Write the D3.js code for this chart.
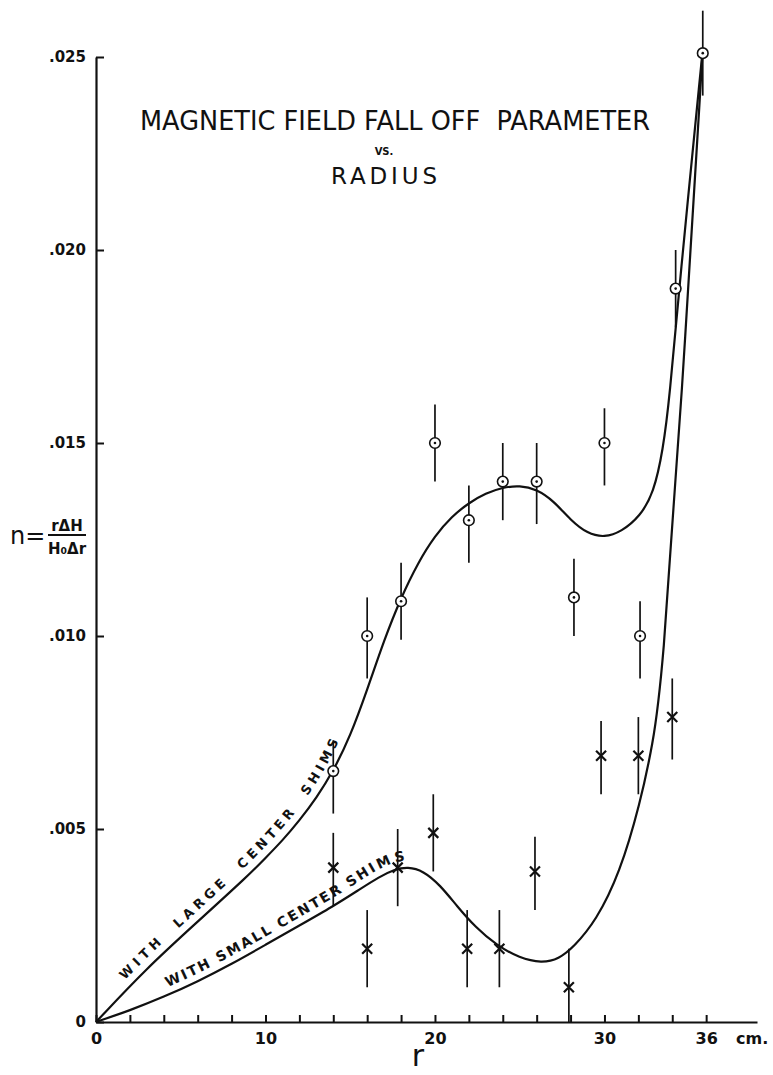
<!DOCTYPE html>
<html>
<head>
<meta charset="utf-8">
<script src="https://cdn.jsdelivr.net/npm/d3@7"></script>
<style>
  body { margin: 0; background: #fff; }
  svg { display: block; }
</style>
</head>
<body>
<svg id="chart"></svg>
<script>
// axis ticks
const yTickValues = [0, 0.005, 0.010, 0.015, 0.020, 0.025];
const yTickLabels = ["0", ".005", ".010", ".015", ".020", ".025"];
const xTickValues = [0, 2, 4, 6, 8, 10, 12, 14, 16, 18, 20, 22, 24, 26, 28, 30, 32, 34, 36];
const xLabelValues = [0, 10, 20, 30, 36];

// measured points: [r, n, low end of bar, high end of bar]
const largeShims = [
  [14, 0.0065, 0.0054, 0.0073],
  [16, 0.0100, 0.0089, 0.0110],
  [18, 0.0109, 0.0099, 0.0119],
  [20, 0.0150, 0.0140, 0.0160],
  [22, 0.0130, 0.0119, 0.0139],
  [24, 0.0140, 0.0130, 0.0150],
  [26, 0.0140, 0.0129, 0.0150],
  [28.2, 0.0110, 0.0100, 0.0120],
  [30, 0.0150, 0.0139, 0.0159],
  [32.1, 0.0100, 0.0089, 0.0109],
  [34.2, 0.0190, 0.0180, 0.0200],
  [35.8, 0.0251, 0.0240, 0.0262]
];
const smallShims = [
  [14, 0.0040, 0.0030, 0.0049],
  [16, 0.0019, 0.0009, 0.0029],
  [17.8, 0.0040, 0.0030, 0.0050],
  [19.9, 0.0049, 0.0039, 0.0059],
  [21.9, 0.0019, 0.0009, 0.0029],
  [23.8, 0.0019, 0.0009, 0.0029],
  [25.9, 0.0039, 0.0029, 0.0048],
  [27.9, 0.0009, 0.0000, 0.0019],
  [29.8, 0.0069, 0.0059, 0.0078],
  [32, 0.0069, 0.0059, 0.0079],
  [34, 0.0079, 0.0068, 0.0089]
];

// hand drawn curves
const largeCurve = [
  [0, 0], [3, 0.0014], [6, 0.0026], [9, 0.0038], [10, 0.00425], [11, 0.0047],
  [12, 0.00522], [13, 0.0058], [14, 0.0065], [15, 0.0074], [16, 0.0086], [17, 0.0099],
  [18, 0.0110], [19, 0.0119], [20, 0.0126], [21, 0.0131], [22, 0.01345], [23, 0.0137],
  [24, 0.01385], [25, 0.0139], [26, 0.0138], [27, 0.0135], [28, 0.0130], [29, 0.01265],
  [30, 0.01255], [31, 0.0127], [32.1, 0.0131], [32.9, 0.0137], [33.45, 0.0148],
  [33.85, 0.0162], [34.4, 0.0190], [35.8, 0.0252]
];
const smallCurve = [
  [0, 0], [2, 0.0003], [4, 0.00065], [6, 0.00105], [8, 0.0015], [10, 0.002],
  [12, 0.0025], [14, 0.003], [15.5, 0.00342], [16.7, 0.00376], [17.6, 0.00395],
  [18.4, 0.00402], [19.3, 0.00392], [20.3, 0.00355], [21.3, 0.003], [22.4, 0.00245],
  [23.6, 0.002], [25, 0.00165], [26.3, 0.00153], [27.3, 0.00163], [28.2, 0.00195],
  [29.5, 0.00262], [30.9, 0.00385], [32.1, 0.00565], [32.85, 0.0072], [33.4, 0.0088],
  [34.55, 0.0161], [35.8, 0.0252]
];

const width = 773;
const height = 1075;
const ink = "#111";
const font = "DejaVu Sans, sans-serif";

const svg = d3.select("#chart").attr("width", width).attr("height", height);

const x = d3.scaleLinear().domain([0, 39]).range([96, 757]);
const y = d3.scaleLinear().domain([0, 0.025]).range([1022, 57]);

// y axis, ticks pointing inward
const yAxisG = svg.append("g")
  .attr("transform", `translate(${x(0)},0)`)
  .call(d3.axisLeft(y)
    .tickValues(yTickValues)
    .tickFormat((d, i) => yTickLabels[i])
    .tickSizeInner(-8)
    .tickSizeOuter(0)
    .tickPadding(10));
yAxisG.select(".domain").attr("stroke", ink).attr("stroke-width", 2.2);
yAxisG.selectAll(".tick line").attr("stroke", ink).attr("stroke-width", 2);
yAxisG.selectAll(".tick text")
  .attr("fill", ink)
  .attr("font-family", font)
  .attr("font-weight", "bold")
  .attr("font-size", 15);

// x axis
const xAxisG = svg.append("g")
  .attr("transform", `translate(0,${y(0)})`)
  .call(d3.axisBottom(x)
    .tickValues(xTickValues)
    .tickFormat(d => (xLabelValues.includes(d) ? d : ""))
    .tickSizeInner(-7)
    .tickSizeOuter(0)
    .tickPadding(11));
xAxisG.select(".domain").attr("stroke", ink).attr("stroke-width", 2.2);
xAxisG.selectAll(".tick line").attr("stroke", ink).attr("stroke-width", 2);
xAxisG.selectAll(".tick text")
  .attr("fill", ink)
  .attr("font-family", font)
  .attr("font-weight", "bold")
  .attr("font-size", 16);

svg.append("text")
  .attr("x", 736).attr("y", 1044)
  .attr("font-family", font).attr("font-weight", "bold").attr("font-size", 16)
  .attr("fill", ink)
  .text("cm.");

svg.append("text")
  .attr("x", 418).attr("y", 1066)
  .attr("text-anchor", "middle")
  .attr("font-family", font).attr("font-size", 30)
  .attr("fill", ink)
  .text("r");

// y axis label n = rΔH / H₀Δr
const yLab = svg.append("g").attr("fill", ink).attr("font-family", font);
yLab.append("text")
  .attr("x", 10).attr("y", 544)
  .attr("font-size", 24)
  .text("n=");
yLab.append("text")
  .attr("x", 67).attr("y", 531)
  .attr("text-anchor", "middle")
  .attr("font-size", 15).attr("font-weight", "bold")
  .text("rΔH");
yLab.append("line")
  .attr("x1", 48).attr("x2", 86)
  .attr("y1", 535).attr("y2", 535)
  .attr("stroke", ink).attr("stroke-width", 2);
yLab.append("text")
  .attr("x", 67).attr("y", 554)
  .attr("text-anchor", "middle")
  .attr("font-size", 15).attr("font-weight", "bold")
  .text("H₀Δr");

// title
const title = svg.append("g").attr("fill", ink).attr("font-family", font).attr("text-anchor", "middle");
title.append("text")
  .attr("x", 395).attr("y", 130)
  .attr("font-size", 26)
  .attr("textLength", 510).attr("lengthAdjust", "spacingAndGlyphs")
  .style("white-space", "pre")
  .text("MAGNETIC FIELD FALL OFF  PARAMETER");
title.append("text")
  .attr("x", 384).attr("y", 155)
  .attr("font-size", 10).attr("font-weight", "bold")
  .text("VS.");
title.append("text")
  .attr("x", 384).attr("y", 184)
  .attr("font-size", 23)
  .attr("textLength", 106).attr("lengthAdjust", "spacing")
  .text("RADIUS");

// curves
const line = d3.line()
  .x(d => x(d[0]))
  .y(d => y(d[1]))
  .curve(d3.curveBasis);

svg.append("path")
  .attr("id", "largeCurve")
  .attr("d", line(largeCurve))
  .attr("fill", "none").attr("stroke", ink).attr("stroke-width", 2.2);
svg.append("path")
  .attr("id", "smallCurve")
  .attr("d", line(smallCurve))
  .attr("fill", "none").attr("stroke", ink).attr("stroke-width", 2.2);

// curve labels along the curves
svg.append("text")
  .attr("font-family", font).attr("font-weight", "bold").attr("font-size", 13)
  .attr("fill", ink)
  .attr("dy", -8)
  .style("white-space", "pre")
  .append("textPath")
  .attr("href", "#largeCurve")
  .attr("startOffset", 50)
  .attr("textLength", 326).attr("lengthAdjust", "spacing")
  .text("WITH  LARGE  CENTER  SHIMS");
svg.append("text")
  .attr("font-family", font).attr("font-weight", "bold").attr("font-size", 14)
  .attr("fill", ink)
  .attr("dy", -7)
  .append("textPath")
  .attr("href", "#smallCurve")
  .attr("startOffset", 80)
  .attr("textLength", 268).attr("lengthAdjust", "spacing")
  .text("WITH SMALL CENTER SHIMS");

// error bars
const bars = svg.append("g").attr("stroke", ink).attr("stroke-width", 1.7);
bars.selectAll("line")
  .data(largeShims.concat(smallShims))
  .join("line")
  .attr("x1", d => x(d[0])).attr("x2", d => x(d[0]))
  .attr("y1", d => y(d[2])).attr("y2", d => y(d[3]));

// circle markers
const circ = svg.append("g").selectAll("g")
  .data(largeShims)
  .join("g")
  .attr("transform", d => `translate(${x(d[0])},${y(d[1])})`);
circ.append("circle")
  .attr("r", 5.3)
  .attr("fill", "#fff").attr("stroke", ink).attr("stroke-width", 1.6);
circ.append("circle")
  .attr("r", 1.3)
  .attr("fill", ink);

// cross markers
svg.append("g").selectAll("path")
  .data(smallShims)
  .join("path")
  .attr("transform", d => `translate(${x(d[0])},${y(d[1])})`)
  .attr("d", "M-5,-5L5,5M-5,5L5,-5")
  .attr("fill", "none").attr("stroke", ink).attr("stroke-width", 2.2);
</script>
</body>
</html>
